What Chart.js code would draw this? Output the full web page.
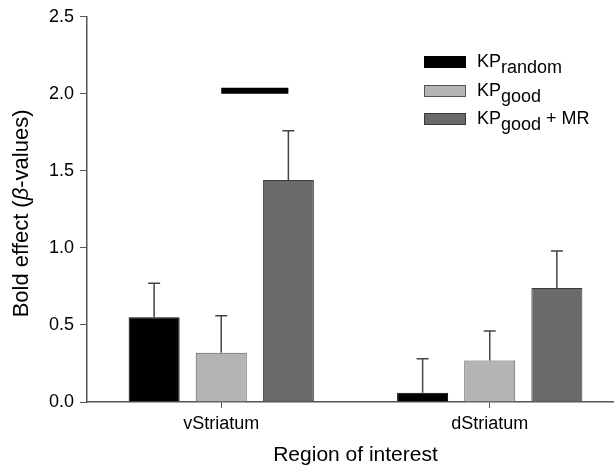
<!DOCTYPE html>
<html>
<head>
<meta charset="utf-8">
<script src="https://cdn.jsdelivr.net/npm/chart.js@4.4.0/dist/chart.umd.min.js"></script>
<style>
  html, body { margin: 0; padding: 0; background: #fff; overflow: hidden; }
  #wrap { width: 624px; height: 472px; }
</style>
</head>
<body>
<div id="wrap"><canvas id="boldChart" width="624" height="472"></canvas></div>
<script>
const regions = ["vStriatum", "dStriatum"];
const seriesNames = ["random", "good", "good"];
const seriesSuffix = ["", "", " + MR"];
const kpRandom = [0.55, 0.06];
const kpGood = [0.32, 0.27];
const kpGoodMR = [1.44, 0.74];
const errRandom = [0.22, 0.22];
const errGood = [0.24, 0.19];
const errGoodMR = [0.32, 0.24];
const yTicks = [0, 0.5, 1.0, 1.5, 2.0, 2.5];
const sigLevel = 2.02;

const FONT = "'Liberation Sans', Arial, sans-serif";
const errors = [errRandom, errGood, errGoodMR];
const fills = ["#000000", "#b4b4b4", "#6a6a6a"];
const borders = ["#000000", "#555555", "#3a3a3a"];

// error bars (upper only) + significance line
const extras = {
  id: "extras",
  afterDatasetsDraw(chart) {
    const ctx = chart.ctx;
    const y = chart.scales.y;
    ctx.save();
    ctx.strokeStyle = "#444";
    ctx.lineWidth = 1.5;
    chart.data.datasets.forEach((ds, di) => {
      chart.getDatasetMeta(di).data.forEach((bar, i) => {
        const top = y.getPixelForValue(ds.data[i]);
        const end = y.getPixelForValue(ds.data[i] + errors[di][i]);
        ctx.beginPath();
        ctx.moveTo(bar.x, top);
        ctx.lineTo(bar.x, end);
        ctx.moveTo(bar.x - 6, end);
        ctx.lineTo(bar.x + 6, end);
        ctx.stroke();
      });
    });
    // significance bar from group center to KPgood+MR bar
    const x0 = chart.scales.x.getPixelForValue(0);
    const x1 = chart.getDatasetMeta(2).data[0].x;
    ctx.fillStyle = "#000";
    ctx.fillRect(x0, y.getPixelForValue(sigLevel) - 3, x1 - x0, 6);
    ctx.restore();
  },
  afterDraw(chart) {
    const ctx = chart.ctx;
    const area = chart.chartArea;
    ctx.save();
    // y title with italic beta
    ctx.translate(22, (area.top + area.bottom) / 2 + 4);
    ctx.rotate(-Math.PI / 2);
    ctx.fillStyle = "#000";
    ctx.textBaseline = "middle";
    const parts = [["Bold effect (", "normal"], ["\u03b2", "italic"], ["-values)", "normal"]];
    let total = 0;
    parts.forEach(p => { ctx.font = p[1] + " 22px " + FONT; total += ctx.measureText(p[0]).width; });
    let cx = -total / 2;
    parts.forEach(p => {
      ctx.font = p[1] + " 22px " + FONT;
      ctx.fillText(p[0], cx, 0);
      cx += ctx.measureText(p[0]).width;
    });
    ctx.restore();

    // legend
    ctx.save();
    const rows = [62, 91, 119];
    ctx.textBaseline = "alphabetic";
    ctx.fillStyle = "#000";
    rows.forEach((cy, i) => {
      ctx.fillStyle = fills[i];
      ctx.fillRect(424, cy - 6, 42, 12);
      ctx.strokeStyle = borders[i];
      ctx.lineWidth = 1;
      ctx.strokeRect(424.5, cy - 5.5, 41, 11);
      ctx.fillStyle = "#000";
      ctx.font = "18px " + FONT;
      let tx = 477;
      const base = cy + 5;
      ctx.fillText("KP", tx, base);
      tx += ctx.measureText("KP").width;
      ctx.fillText(seriesNames[i], tx, base + 6);
      tx += ctx.measureText(seriesNames[i]).width;
      if (seriesSuffix[i]) ctx.fillText(seriesSuffix[i], tx, base);
    });
    ctx.restore();
  }
};

new Chart(document.getElementById("boldChart"), {
  type: "bar",
  data: {
    labels: regions,
    datasets: [
      { label: "KPrandom", data: kpRandom },
      { label: "KPgood", data: kpGood },
      { label: "KPgood + MR", data: kpGoodMR }
    ].map((d, i) => Object.assign(d, {
      backgroundColor: fills[i],
      borderColor: borders[i],
      borderWidth: 1,
      borderSkipped: "bottom",
      categoryPercentage: 0.75,
      barPercentage: 0.76
    }))
  },
  options: {
    responsive: false,
    animation: false,
    layout: { padding: { top: 15, left: 0, right: 0, bottom: 0 } },
    plugins: { legend: { display: false }, tooltip: { enabled: false } },
    scales: {
      x: {
        afterFit: s => { s.height = 70; },
        grid: { display: true, drawOnChartArea: false, drawTicks: true, tickLength: 6, color: "#555", offset: false },
        border: { color: "#555", width: 1.5 },
        ticks: { color: "#000", font: { family: FONT, size: 18 }, padding: 5 },
        title: { display: true, text: "Region of interest", color: "#000", font: { family: FONT, size: 21 }, padding: { top: 4 } }
      },
      y: {
        min: 0,
        max: 2.5,
        afterFit: s => { s.width = 87; },
        afterBuildTicks: s => { s.ticks = yTicks.map(v => ({ value: v })); },
        grid: { display: true, drawOnChartArea: false, drawTicks: true, tickLength: 7, color: "#555" },
        border: { color: "#555", width: 1.5 },
        ticks: { color: "#000", font: { family: FONT, size: 18 }, padding: 6, callback: v => v.toFixed(1) }
      }
    }
  },
  plugins: [extras]
});
</script>
</body>
</html>
